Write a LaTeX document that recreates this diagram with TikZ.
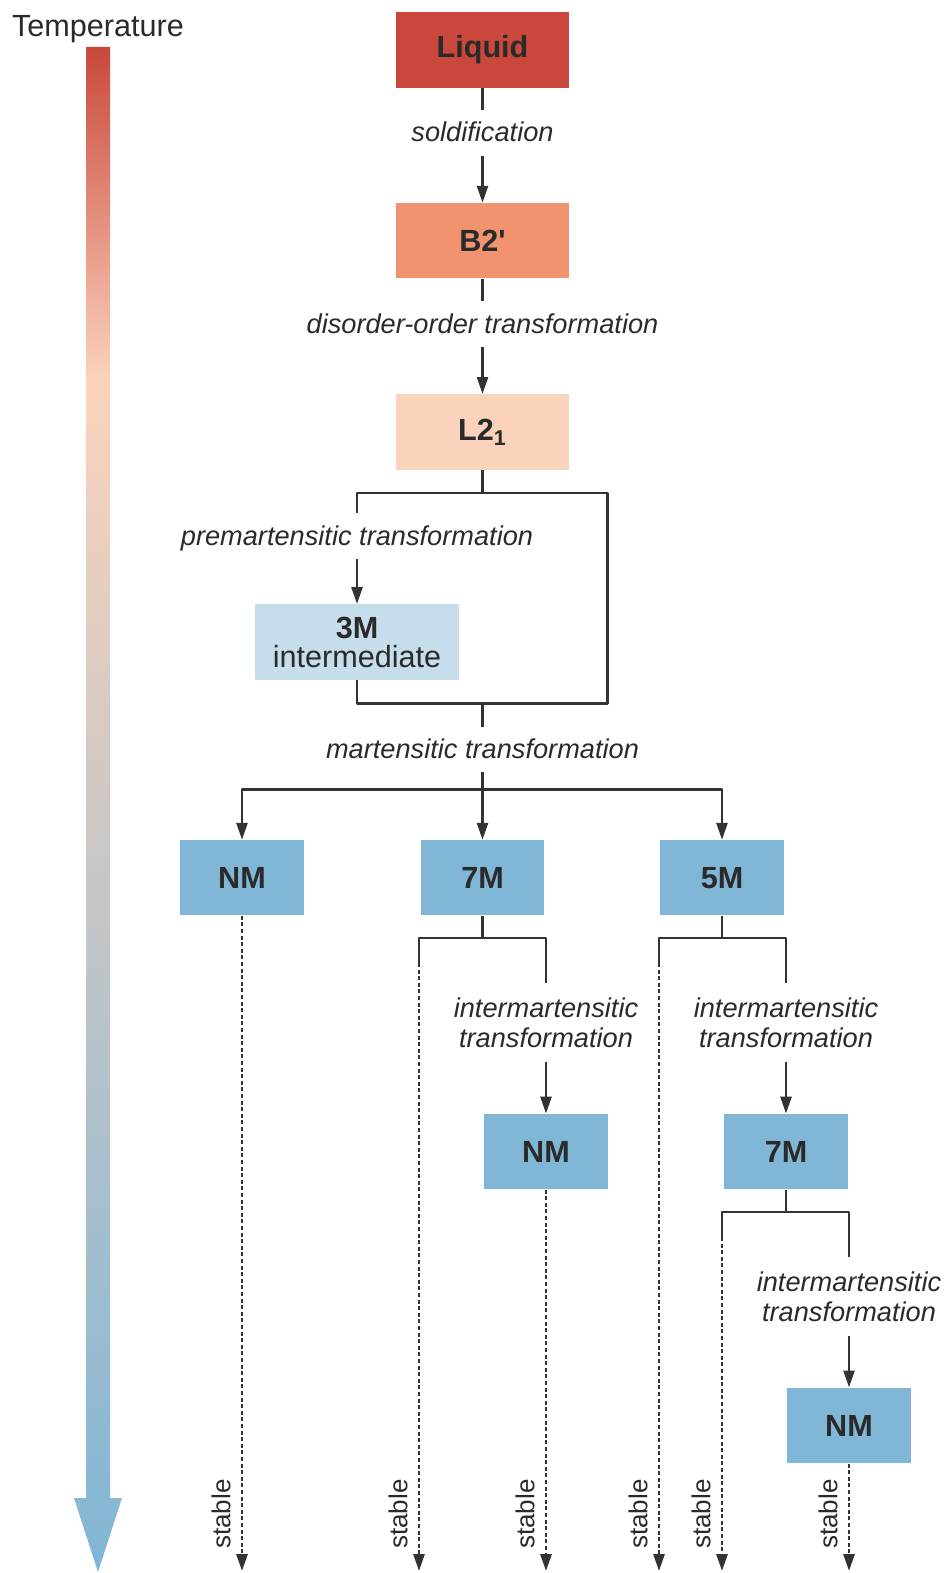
\documentclass[tikz,border=0pt]{standalone}
\usepackage{fontspec}
\setmainfont{Liberation Sans}
\usetikzlibrary{arrows.meta}

\definecolor{hotred}{HTML}{C9483B}
\definecolor{salmon}{HTML}{F0936E}
\definecolor{warmpeach}{HTML}{FBD3BC}
\definecolor{paleblue}{HTML}{C6DEEC}
\definecolor{martblue}{HTML}{81B7D6}
\definecolor{midgray}{HTML}{CFC8C4}
\definecolor{coldblue}{HTML}{80B6D6}
\definecolor{linegray}{HTML}{333333}
\definecolor{inkgray}{HTML}{2A2A2A}

\pgfdeclareverticalshading{tempgrad}{100bp}{color(0bp)=(coldblue); color(25bp)=(coldblue); color(50.3bp)=(midgray); color(64.1bp)=(warmpeach); color(75bp)=(hotred); color(100bp)=(hotred)}

\begin{document}
\begin{tikzpicture}[x=0.5pt, y=-0.5pt, line join=round,
    >={Triangle[length=8.5pt, width=5.5pt]},
    phase/.style={minimum width=86.3pt, minimum height=37.6pt, inner sep=0pt, text=inkgray, font=\bfseries\fontsize{15.3}{14.5}\selectfont},
    trans/.style={text=inkgray, font=\itshape\fontsize{13.6}{15}\selectfont, inner xsep=0pt, inner ysep=4.75pt, text height=11pt, text depth=2pt},
    trans2/.style={text=inkgray, font=\itshape\fontsize{13.6}{15}\selectfont, inner xsep=0pt, inner ysep=7pt, align=center},
    stablelbl/.style={rotate=90, anchor=south, inner sep=0pt, text=inkgray, font=\fontsize{13}{13}\selectfont},
    link/.style={draw=linegray, line width=1.3pt},
    flow/.style={link, ->},
    keep/.style={link, ->, line width=1.4pt, dash pattern=on 2pt off 1.3pt}]

    \useasboundingbox (0,0) rectangle (947,1573);

    % Temperature axis
    \node[anchor=base, text=inkgray, font=\fontsize{15.3}{15.3}\selectfont] (templbl) at (98,37) {Temperature};
    \shade[shading=tempgrad] (86,47) -- (110,47) -- (110,1498) -- (122,1498) -- (98,1572) -- (74,1498) -- (86,1498) -- cycle;

    % Phases
    \node[phase, fill=hotred] (liq) at (482.5,50) {Liquid};
    \node[phase, fill=salmon] (b2) at (482.5,240.8) {B2\textquotesingle};
    \node[phase, fill=warmpeach] (l21) at (482.5,432) {L2\textsubscript{1}};
    \node[phase, fill=paleblue, minimum width=102pt, align=center] (m3) at (357,642) {3M\\\mdseries intermediate};
    \node[phase, fill=martblue, minimum width=61.7pt] (nma) at (242,877.8) {NM};
    \node[phase, fill=martblue, minimum width=61.7pt] (s7a) at (482.5,877.8) {7M};
    \node[phase, fill=martblue, minimum width=61.7pt] (s5a) at (722,877.8) {5M};
    \node[phase, fill=martblue, minimum width=61.7pt] (nmb) at (546,1151.6) {NM};
    \node[phase, fill=martblue, minimum width=61.7pt] (s7b) at (786,1151.6) {7M};
    \node[phase, fill=martblue, minimum width=61.7pt] (nmc) at (849,1425.5) {NM};

    % Transformations
    \node[trans] (sol) at (482.5,132.9) {soldification};
    \node[trans] (dis) at (482.5,324) {disorder-order transformation};
    \node[trans] (pre) at (357,536) {premartensitic transformation};
    \node[trans] (mart) at (482.5,749.4) {martensitic transformation};
    \node[trans2] (ima) at (546,1022.8) {intermartensitic\\transformation};
    \node[trans2] (imb) at (786,1022.8) {intermartensitic\\transformation};
    \node[trans2] (imc) at (849,1296.5) {intermartensitic\\transformation};

    % Junctions and free ends
    \coordinate (j1) at (482.5,493);
    \coordinate (j2) at (482.5,703.2);
    \coordinate (j3) at (482.5,789.5);
    \coordinate (j4) at (482.5,938);
    \coordinate (j5) at (722,938);
    \coordinate (j6) at (786,1211.9);
    \coordinate (kb) at (419,963);
    \coordinate (kd) at (659,963);
    \coordinate (ke) at (722,1237);
    \coordinate (ea) at (242,1571);
    \coordinate (eb) at (419,1571);
    \coordinate (ec) at (546,1571);
    \coordinate (ed) at (659,1571);
    \coordinate (ee) at (722,1571);
    \coordinate (ef) at (849,1571);

    % Liquid -> B2' -> L21
    \draw[link] (liq.south) -- (sol.north);
    \draw[flow] (sol.south) -- (b2.north);
    \draw[link] (b2.south) -- (dis.north);
    \draw[flow] (dis.south) -- (l21.north);

    % premartensitic branch
    \draw[link] (l21.south) -- (j1);
    \draw[link] (pre.north) |- (j1) -| (607.5,703.2) -| (m3.south);
    \draw[flow] (pre.south) -- (m3.north);

    % martensitic transformation
    \draw[link] (j2) -- (mart.north);
    \draw[flow] (mart.south) -- (s7a.north);
    \draw[flow] (j3) -| (nma.north);
    \draw[flow] (j3) -| (s5a.north);

    % 7M branch
    \draw[link] (s7a.south) -- (j4);
    \draw[link] (j4) -| (ima.north);
    \draw[link] (j4) -| (kb);
    \draw[flow] (ima.south) -- (nmb.north);

    % 5M branch
    \draw[link] (s5a.south) -- (j5);
    \draw[link] (j5) -| (imb.north);
    \draw[link] (j5) -| (kd);
    \draw[flow] (imb.south) -- (s7b.north);

    % second 7M branch
    \draw[link] (s7b.south) -- (j6);
    \draw[link] (j6) -| (imc.north);
    \draw[link] (j6) -| (ke);
    \draw[flow] (imc.south) -- (nmc.north);

    % stable ends
    \draw[keep] (nma.south) -- (ea);
    \draw[keep] (kb) -- (eb);
    \draw[keep] (nmb.south) -- (ec);
    \draw[keep] (kd) -- (ed);
    \draw[keep] (ke) -- (ee);
    \draw[keep] (nmc.south) -- (ef);

    \node[stablelbl] (sta) at (231,1514) {stable};
    \node[stablelbl] (stb) at (408,1514) {stable};
    \node[stablelbl] (stc) at (535,1514) {stable};
    \node[stablelbl] (std) at (648,1514) {stable};
    \node[stablelbl] (ste) at (711,1514) {stable};
    \node[stablelbl] (stf) at (838,1514) {stable};
\end{tikzpicture}
\end{document}
